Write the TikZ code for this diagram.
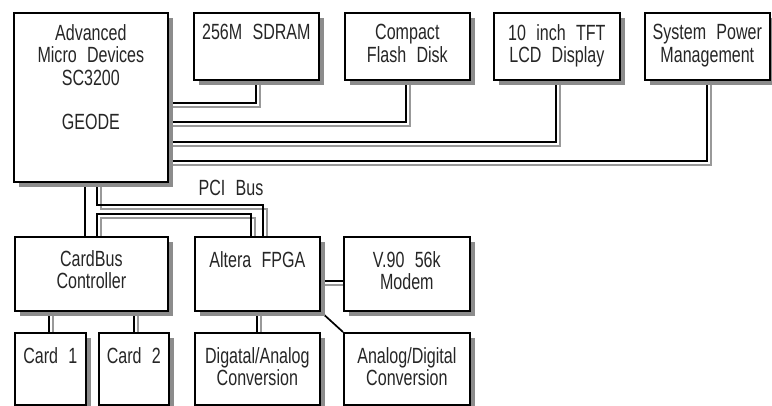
\documentclass[tikz,border=0pt]{standalone}
\usepackage{fontspec}
\setmainfont[FakeStretch=0.73,WordSpace=2.3]{Liberation Sans}
\usetikzlibrary{calc,shadows}
\pgfdeclarelayer{bg}
\pgfsetlayers{bg,main}
\tikzset{
  blk/.style={draw=black, line width=1.7pt, fill=white, anchor=north west, inner sep=0pt,
    drop shadow={shadow xshift=5pt, shadow yshift=-5pt, fill=black!45, opacity=1}},
  txt/.style={anchor=north, align=center, inner sep=0pt, font=\fontsize{22}{22.8}\selectfont, text=black!85},
  wire/.style={draw=black, line width=1.7pt},
  wshadow/.style={draw=black!40, line width=1.7pt, transform canvas={xshift=4pt, yshift=-4pt}}
}
\newcommand{\bx}[5]{\node[blk, minimum width=#4pt, minimum height=#5pt] (#1) at (#2,#3) {};}
\begin{document}
\begin{tikzpicture}[x=1pt,y=-1pt]
\useasboundingbox (0,0) rectangle (772,406);
\clip (0,0) rectangle (772,406);
% boxes
\bx{amd}{13}{12}{154}{169}
\bx{sdram}{193}{12}{125}{67}
\bx{cf}{344}{12}{125}{67}
\bx{tft}{493}{12}{126}{67}
\bx{pwr}{644}{12}{125}{67}
\bx{cardbus}{14}{236}{153}{74}
\bx{fpga}{194}{236}{125}{74}
\bx{modem}{343}{236}{126}{74}
\bx{card1}{14}{332}{71}{72}
\bx{card2}{98}{332}{70}{72}
\bx{da}{194}{332}{125}{72}
\bx{ad}{343}{332}{126}{72}
% texts
\node[txt] (tamd) at ($(amd.north)+(0,12)$) {Advanced\\Micro Devices\\SC3200};
\node[txt] (tgeode) at ($(amd.north)+(0,102)$) {GEODE};
\node[txt] (tsdram) at ($(sdram.north)+(0,12)$) {256M SDRAM};
\node[txt] (tcf) at ($(cf.north)+(0,12)$) {Compact\\Flash Disk};
\node[txt] (ttft) at ($(tft.north)+(0,12)$) {10 inch TFT\\LCD Display};
\node[txt] (tpwr) at ($(pwr.north)+(0,12)$) {System Power\\Management};
\node[txt] (tcb) at ($(cardbus.north)+(0,14)$) {CardBus\\Controller};
\node[txt] (tfpga) at ($(fpga.north)+(0,15)$) {Altera FPGA};
\node[txt] (tmodem) at ($(modem.north)+(0,15)$) {V.90 56k\\Modem};
\node[txt] (tc1) at ($(card1.north)+(0,15)$) {Card 1};
\node[txt] (tc2) at ($(card2.north)+(0,15)$) {Card 2};
\node[txt] (tda) at ($(da.north)+(0,15)$) {Digatal/Analog\\Conversion};
\node[txt] (tad) at ($(ad.north)+(0,15)$) {Analog/Digital\\Conversion};
\node[txt] (tpci) at (231,180) {PCI Bus};
% connectors
\begin{pgfonlayer}{bg}
\draw[wshadow] ($(amd.north east)+(0,91)$) -| ($(sdram.south west)+(63,0)$);
\draw[wshadow] ($(amd.north east)+(0,110)$) -| ($(cf.south west)+(62,0)$);
\draw[wshadow] ($(amd.north east)+(0,130)$) -| ($(tft.south west)+(63,0)$);
\draw[wshadow] ($(amd.north east)+(0,149)$) -| ($(pwr.south west)+(63,0)$);
\draw[wshadow] ($(amd.south west)+(84,0)$) |- ($(amd.south west)+(150,22)$) -| ($(fpga.north west)+(69,0)$);
\draw[wshadow] ($(cardbus.north west)+(83,0)$) |- ($(fpga.north west)+(57,-22)$) -- ($(fpga.north west)+(57,0)$);
\draw[wshadow] ($(fpga.north east)+(0,45)$) -- ($(modem.north west)+(0,45)$);
\draw[wshadow] ($(cardbus.south west)+(35,0)$) -- ($(card1.north west)+(35,0)$);
\draw[wshadow] ($(cardbus.south west)+(120,0)$) -- ($(card2.north west)+(36,0)$);
\draw[wshadow] ($(fpga.south west)+(63,0)$) -- ($(da.north west)+(63,0)$);
\draw[wire] ($(amd.north east)+(0,91)$) -| ($(sdram.south west)+(63,0)$);
\draw[wire] ($(amd.north east)+(0,110)$) -| ($(cf.south west)+(62,0)$);
\draw[wire] ($(amd.north east)+(0,130)$) -| ($(tft.south west)+(63,0)$);
\draw[wire] ($(amd.north east)+(0,149)$) -| ($(pwr.south west)+(63,0)$);
\draw[wire] ($(amd.south west)+(84,0)$) |- ($(amd.south west)+(150,22)$) -| ($(fpga.north west)+(69,0)$);
\draw[wire] ($(amd.south west)+(72,0)$) -- ($(cardbus.north west)+(71,0)$);
\draw[wire] ($(cardbus.north west)+(83,0)$) |- ($(fpga.north west)+(57,-22)$) -- ($(fpga.north west)+(57,0)$);
\draw[wire] ($(fpga.north east)+(0,45)$) -- ($(modem.north west)+(0,45)$);
\draw[wire] ($(cardbus.south west)+(35,0)$) -- ($(card1.north west)+(35,0)$);
\draw[wire] ($(cardbus.south west)+(120,0)$) -- ($(card2.north west)+(36,0)$);
\draw[wire] ($(fpga.south west)+(63,0)$) -- ($(da.north west)+(63,0)$);
\draw[wire] (fpga.south east) -- (ad.north west);
\end{pgfonlayer}
\end{tikzpicture}
\end{document}
